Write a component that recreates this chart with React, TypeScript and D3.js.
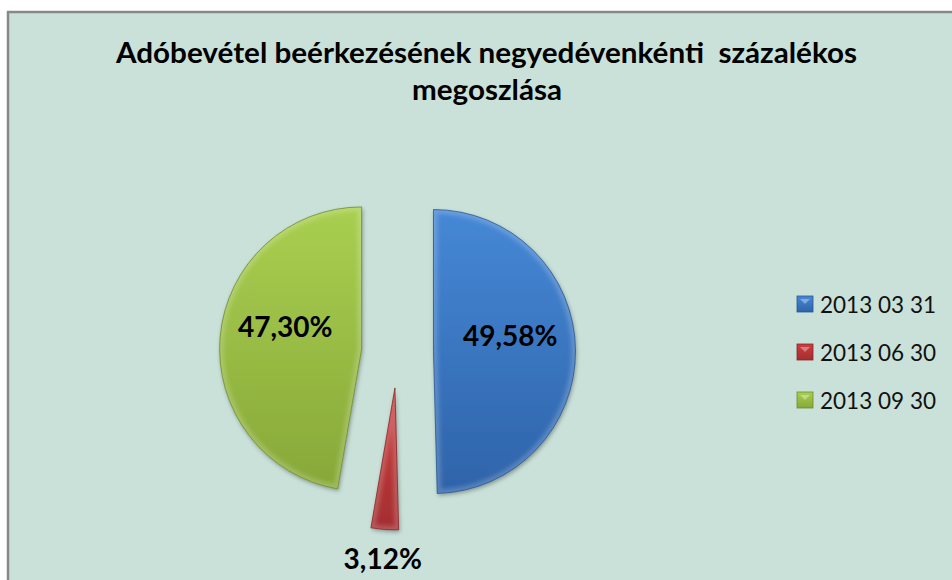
import React from "react";
import * as d3 from "d3";

const categories = ["2013 03 31", "2013 06 30", "2013 09 30"];
const values = [49.58, 3.12, 47.3];
const titleLines = ["Adóbevétel beérkezésének negyedévenkénti  százalékos", "megoszlása"];
const colorsTop = ["#4688d6", "#cc3d3e", "#a9cf50"];
const colorsBottom = ["#2e63a9", "#a32e30", "#87a838"];
const edgeColors = ["#2a5690", "#8a2526", "#6f8c2c"];

const W = 952;
const H = 580;
const cx = 397.5;
const cy = 352;
const R = 142;
const explode = 36;

const fmt = (v: number) => d3.format(".2f")(v).replace(".", ",") + "%";

export default function App() {
  const pie = d3.pie<number>().sort(null).startAngle(0).endAngle(2 * Math.PI);
  const arcs = pie(values);
  const arc = d3.arc<d3.PieArcDatum<number>>().innerRadius(0).outerRadius(R);
  const inner = d3.arc<d3.PieArcDatum<number>>().innerRadius(R * 0.5).outerRadius(R * 0.58);
  const outer = d3.arc<d3.PieArcDatum<number>>().innerRadius(R * 1.18).outerRadius(R * 1.22);

  const legendY = d3.scalePoint<string>().domain(categories).range([304, 400]);

  return (
    <svg width={W} height={H} style={{ position: "absolute", left: 0, top: 0 }}>
      <defs>
        {arcs.map((a, i) => (
          <linearGradient key={i} id={`g${i}`} x1="0" y1="0" x2="0" y2="1">
            <stop offset="0" stopColor={colorsTop[i]} />
            <stop offset="1" stopColor={colorsBottom[i]} />
          </linearGradient>
        ))}
        {arcs.map((a, i) => (
          <clipPath key={i} id={`c${i}`}>
            <path d={arc(a) || ""} />
          </clipPath>
        ))}
        <filter id="shadow" x="-20%" y="-20%" width="140%" height="140%">
          <feDropShadow dx="1" dy="2" stdDeviation="2" floodColor="#000" floodOpacity="0.35" />
        </filter>
        <filter id="blur" x="-10%" y="-10%" width="120%" height="120%">
          <feGaussianBlur stdDeviation="2" />
        </filter>
      </defs>
      <rect x={8} y={12} width={W} height={H} fill="#c9e1d9" />
      <line x1={7} x2={W} y1={12} y2={12} stroke="#888" strokeWidth={2.5} />
      <line x1={8} x2={8} y1={11} y2={H} stroke="#888" strokeWidth={2.5} />

      {titleLines.map((t, i) => (
        <text
          key={i}
          x={i === 0 ? 116 : 412}
          y={i === 0 ? 63 : 100}
          fontFamily="Lato, 'Open Sans', sans-serif"
          fontWeight="bold"
          fontSize={29}
          fill="#000"
          textLength={i === 0 ? 741 : 150}
          lengthAdjust="spacingAndGlyphs"
          style={{ whiteSpace: "pre" }}
        >
          {t}
        </text>
      ))}

      {arcs.map((a, i) => {
        const mid = (a.startAngle + a.endAngle) / 2;
        const dx = Math.sin(mid) * explode;
        const dy = -Math.cos(mid) * explode;
        const d = arc(a) || "";
        return (
          <g key={i} transform={`translate(${cx + dx},${cy + dy})`}>
            <path d={d} fill={`url(#g${i})`} filter="url(#shadow)" />
            <g clipPath={`url(#c${i})`}>
              <path d={d} fill="none" stroke="#fff" strokeOpacity={0.2} strokeWidth={8} filter="url(#blur)" />
            </g>
            <path d={d} fill="none" stroke={edgeColors[i]} strokeWidth={1} strokeOpacity={0.8} />
          </g>
        );
      })}

      {arcs.map((a, i) => {
        const mid = (a.startAngle + a.endAngle) / 2;
        const dx = Math.sin(mid) * explode;
        const dy = -Math.cos(mid) * explode;
        const small = a.data < 10;
        const [lx, ly] = small ? outer.centroid(a) : inner.centroid(a);
        return (
          <text
            key={i}
            x={cx + dx + lx}
            y={cy + dy + ly + (small ? 0 : -16)}
            textAnchor="middle"
            dominantBaseline="central"
            fontFamily="Lato, 'Open Sans', sans-serif"
            fontWeight="bold"
            fontSize={28}
            fill="#000"
          >
            {fmt(a.data)}
          </text>
        );
      })}

      {categories.map((c, i) => {
        const y = legendY(c) as number;
        return (
          <g key={c} transform={`translate(797,${y})`}>
            <rect x={0} y={-8} width={16} height={16} fill={`url(#g${i})`} stroke={edgeColors[i]} strokeWidth={0.8} />
            <path d="M3,-5 L13,-5 L8,0 Z" fill="#fff" fillOpacity={0.35} />
            <text
              x={23}
              y={0}
              dominantBaseline="central"
              fontFamily="Lato, 'Open Sans', sans-serif"
              fontSize={23}
              fill="#111"
              textLength={116}
              lengthAdjust="spacingAndGlyphs"
            >
              {c}
            </text>
          </g>
        );
      })}
    </svg>
  );
}
